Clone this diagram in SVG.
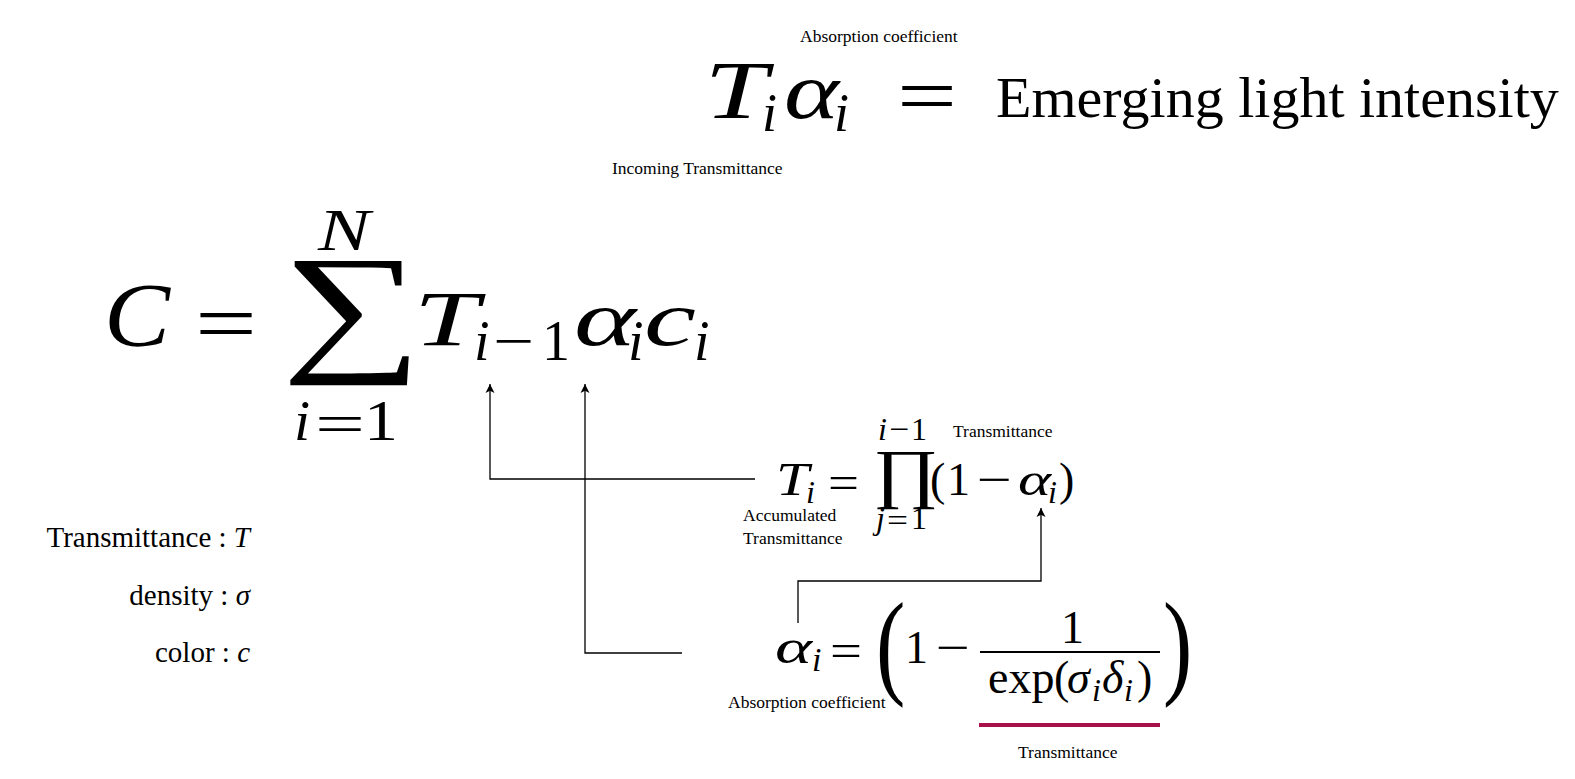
<svg xmlns="http://www.w3.org/2000/svg" width="1575" height="779" viewBox="0 0 1575 779">
<style>
text{font-family:"Liberation Serif","Times New Roman",serif;fill:#000}
.mi{font-style:italic}
.lbl{font-size:17.5px}
.leg{font-size:29px}
.conn{fill:none;stroke:#000;stroke-width:1.3}
</style>
<defs>
<marker id="arr" viewBox="0 0 10 10" refX="10" refY="5" markerUnits="userSpaceOnUse" markerWidth="9" markerHeight="10" orient="auto">
<path d="M0,0 L10,5 L0,10 L2.5,5 z" fill="#000"/>
</marker>
</defs>
<rect width="1575" height="779" fill="#fff"/>

<g id="top-formula">
<text class="lbl" x="800" y="42">Absorption coefficient</text>
<text class="mi" transform="translate(704.5,118) scale(1.38,1)" font-size="82">T</text>
<text class="mi" x="762" y="131" font-size="54">i</text>
<text class="mi" x="784" y="118" font-size="80" textLength="55" lengthAdjust="spacingAndGlyphs">α</text>
<text class="mi" x="834" y="131" font-size="54">i</text>
<text x="897" y="123" font-size="80" textLength="60" lengthAdjust="spacingAndGlyphs">=</text>
<text x="996" y="117" font-size="58">Emerging light intensity</text>
<text class="lbl" x="612" y="174">Incoming Transmittance</text>
</g>

<g id="render-equation">
<text class="mi" x="104" y="346" font-size="90" textLength="66" lengthAdjust="spacingAndGlyphs">C</text>
<text x="195" y="351" font-size="82" textLength="62" lengthAdjust="spacingAndGlyphs">=</text>
<text transform="translate(281.7,355.2) scale(1.98,1.432)" font-size="100">∑</text>
<text class="mi" x="318" y="250" font-size="60" textLength="52" lengthAdjust="spacingAndGlyphs">N</text>
<text class="mi" x="294" y="440" font-size="58">i</text>
<text x="315" y="443" font-size="58" textLength="50" lengthAdjust="spacingAndGlyphs">=</text>
<text x="364" y="440" font-size="58" textLength="34" lengthAdjust="spacingAndGlyphs">1</text>
<text class="mi" transform="translate(413.7,345) scale(1.5,1)" font-size="78">T</text>
<text class="mi" x="474" y="360" font-size="56">i</text>
<text x="493" y="360" font-size="56" textLength="41" lengthAdjust="spacingAndGlyphs">−</text>
<text x="542" y="360" font-size="56" textLength="28" lengthAdjust="spacingAndGlyphs">1</text>
<text class="mi" x="574" y="345" font-size="78" textLength="62" lengthAdjust="spacingAndGlyphs">α</text>
<text class="mi" x="628" y="360" font-size="56">i</text>
<text class="mi" x="644" y="345" font-size="78" textLength="52" lengthAdjust="spacingAndGlyphs">c</text>
<text class="mi" x="694" y="360" font-size="56">i</text>
</g>

<g id="transmittance-formula">
<text class="lbl" x="953" y="437">Transmittance</text>
<text class="mi" x="776" y="495" font-size="46" textLength="33" lengthAdjust="spacingAndGlyphs">T</text>
<text class="mi" x="806" y="503" font-size="32">i</text>
<text x="828" y="498" font-size="46" textLength="31" lengthAdjust="spacingAndGlyphs">=</text>
<text transform="translate(873,494.5) scale(1.2,1)" font-size="66">∏</text>
<text class="mi" x="878" y="440" font-size="32">i</text>
<text x="889" y="440" font-size="32" textLength="20" lengthAdjust="spacingAndGlyphs">−</text>
<text x="911" y="440" font-size="32">1</text>
<text class="mi" x="876" y="529" font-size="32">j</text>
<text x="887" y="531" font-size="32" textLength="21" lengthAdjust="spacingAndGlyphs">=</text>
<text x="911" y="529" font-size="32">1</text>
<text x="930" y="495" font-size="46">(</text>
<text x="947" y="495" font-size="46">1</text>
<text x="977" y="495" font-size="46" textLength="35" lengthAdjust="spacingAndGlyphs">−</text>
<text class="mi" x="1018" y="495" font-size="46" textLength="33" lengthAdjust="spacingAndGlyphs">α</text>
<text class="mi" x="1048" y="503" font-size="32">i</text>
<text x="1059" y="495" font-size="46">)</text>
<text class="lbl" x="743" y="521">Accumulated</text>
<text class="lbl" x="743" y="544">Transmittance</text>
</g>

<g id="absorption-formula">
<text class="mi" x="775" y="663" font-size="48" textLength="37" lengthAdjust="spacingAndGlyphs">α</text>
<text class="mi" x="812" y="671" font-size="34">i</text>
<text x="830" y="666" font-size="46" textLength="32" lengthAdjust="spacingAndGlyphs">=</text>
<text transform="translate(876,683) scale(1.1,1.45)" font-size="80">(</text>
<text x="905" y="663" font-size="46">1</text>
<text x="936" y="663" font-size="46" textLength="34" lengthAdjust="spacingAndGlyphs">−</text>
<line x1="980" y1="652" x2="1160" y2="652" stroke="#000" stroke-width="1.8"/>
<text x="1061" y="643" font-size="46">1</text>
<text x="988" y="693" font-size="46">exp</text>
<text x="1054" y="693" font-size="46">(</text>
<text class="mi" x="1067" y="693" font-size="46">σ</text>
<text class="mi" x="1092" y="701" font-size="32">i</text>
<text class="mi" x="1102" y="693" font-size="46">δ</text>
<text class="mi" x="1124" y="701" font-size="32">i</text>
<text x="1137" y="693" font-size="46">)</text>
<text transform="translate(1163,683) scale(1.1,1.45)" font-size="80">)</text>
<line x1="979" y1="725" x2="1160" y2="725" stroke="#a8104a" stroke-width="4"/>
<text class="lbl" x="728" y="708">Absorption coefficient</text>
<text class="lbl" x="1018" y="758">Transmittance</text>
</g>

<g id="legend">
<text class="leg" x="250" y="547" text-anchor="end">Transmittance : <tspan class="mi">T</tspan></text>
<text class="leg" x="250" y="605" text-anchor="end">density : <tspan class="mi">σ</tspan></text>
<text class="leg" x="250" y="662" text-anchor="end">color : <tspan class="mi">c</tspan></text>
</g>

<g id="connectors">
<path class="conn" d="M755,479 H490 V384" marker-end="url(#arr)"/>
<path class="conn" d="M682,653 H585 V384" marker-end="url(#arr)"/>
<path class="conn" d="M798,623 V581 H1041 V508" marker-end="url(#arr)"/>
</g>
</svg>
